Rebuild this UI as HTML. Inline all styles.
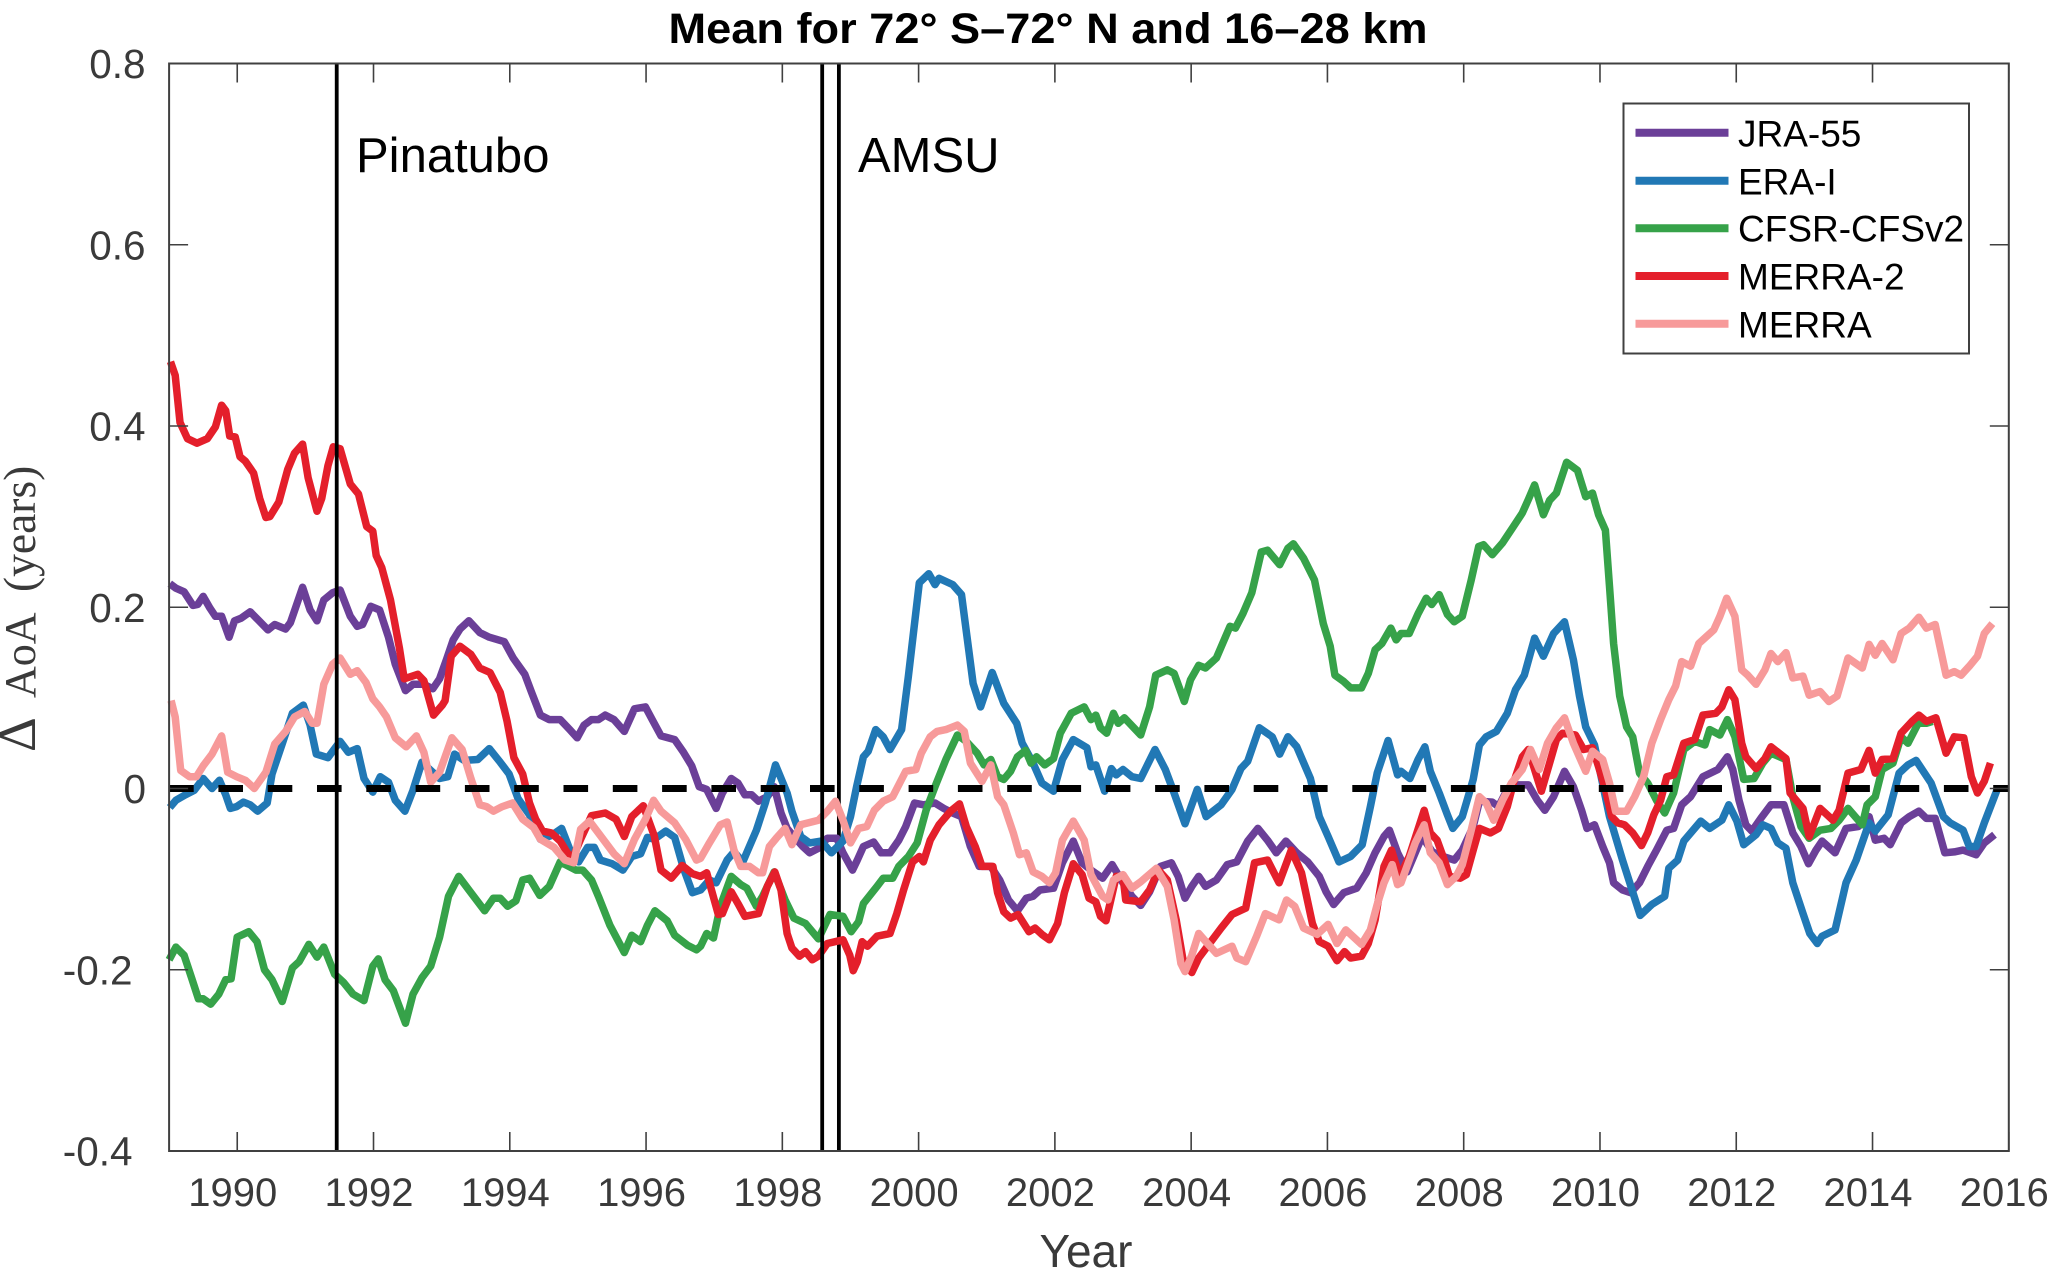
<!DOCTYPE html>
<html lang="en">
<head>
<meta charset="utf-8">
<title>Mean for 72° S–72° N and 16–28 km</title>
<style>
html,body{margin:0;padding:0;background:#fff;}
svg{display:block;}
text{font-family:"Liberation Sans",Arial,sans-serif;}
</style>
</head>
<body>
<svg id="chart" xmlns="http://www.w3.org/2000/svg" width="2067" height="1279" viewBox="0 0 2067 1279">
  <rect x="0" y="0" width="2067" height="1279" fill="#ffffff"/>
  <g id="series-layer-under"></g>
  <g id="series-layer"></g>
  <g id="overlay-layer"></g>
  <g id="axes-layer"></g>
  <text x="1048" y="43" font-size="42.5" font-weight="bold" fill="#000" text-anchor="middle" textLength="759" lengthAdjust="spacingAndGlyphs">Mean for 72° S–72° N and 16–28 km</text>
  <text x="1086" y="1267" font-size="46" fill="#3a3a3a" text-anchor="middle">Year</text>
  <text transform="translate(35,752) rotate(-90)" fill="#3a3a3a" style="font-family:'Liberation Serif',serif"><tspan x="0" font-size="54">Δ </tspan><tspan x="54" font-size="44">AoA </tspan><tspan x="160" font-size="45.5">(years)</tspan></text>
  <text x="356" y="172" font-size="49" fill="#000">Pinatubo</text>
  <text x="858" y="172" font-size="49" fill="#000">AMSU</text>
  <g>
    <rect x="1623.5" y="103.5" width="345.5" height="250" fill="#ffffff" stroke="#404040" stroke-width="2"/>
    <line x1="1635.5" x2="1728.5" y1="132.7" y2="132.7" stroke="#6b3f98" stroke-width="8"/>
    <text x="1738" y="146.7" font-size="37" fill="#000">JRA-55</text>
    <line x1="1635.5" x2="1728.5" y1="180.7" y2="180.7" stroke="#2178b5" stroke-width="8"/>
    <text x="1738" y="194.3" font-size="37" fill="#000">ERA-I</text>
    <line x1="1635.5" x2="1728.5" y1="228.3" y2="228.3" stroke="#36a249" stroke-width="8"/>
    <text x="1738" y="241.5" font-size="37" fill="#000">CFSR-CFSv2</text>
    <line x1="1635.5" x2="1728.5" y1="276" y2="276" stroke="#e41f2b" stroke-width="8"/>
    <text x="1738" y="289.3" font-size="37" fill="#000">MERRA-2</text>
    <line x1="1635.5" x2="1728.5" y1="323.7" y2="323.7" stroke="#f79a9a" stroke-width="8"/>
    <text x="1738" y="337.3" font-size="37" fill="#000">MERRA</text>
  </g>
</svg>
<script>
const xTickYears = [1990,1992,1994,1996,1998,2000,2002,2004,2006,2008,2010,2012,2014,2016];
const yTickValues = [0.8,0.6,0.4,0.2,0,-0.2,-0.4];
const yTickLabels = ["0.8","0.6","0.4","0.2","0","-0.2","-0.4"];
const eventYears = [1991.46,1998.585,1998.83];

const jraYears = [
1989.01,1989.10,1989.22,1989.35,1989.42,1989.50,1989.60,1989.68,1989.77,1989.88,
1989.96,1990.06,1990.19,1990.32,1990.45,1990.55,1990.71,1990.78,1990.96,1991.07,
1991.17,1991.27,1991.40,1991.51,1991.66,1991.76,1991.84,1991.96,1992.09,1992.22,
1992.32,1992.47,1992.58,1992.74,1992.87,1992.97,1993.07,1993.17,1993.27,1993.40,
1993.56,1993.70,1993.92,1994.05,1994.22,1994.32,1994.45,1994.58,1994.74,1994.88,
1994.99,1995.09,1995.20,1995.30,1995.40,1995.53,1995.68,1995.83,1995.99,1996.09,
1996.22,1996.42,1996.55,1996.67,1996.78,1996.89,1997.03,1997.12,1997.25,1997.35,
1997.45,1997.55,1997.65,1997.78,1997.88,1997.98,1998.07,1998.17,1998.30,1998.40,
1998.53,1998.66,1998.80,1998.89,1999.03,1999.10,1999.19,1999.34,1999.45,1999.58,
1999.71,1999.81,1999.94,2000.07,2000.24,2000.37,2000.50,2000.63,2000.76,2000.89,
2001.06,2001.19,2001.32,2001.45,2001.58,2001.68,2001.78,2001.98,2002.11,2002.27,
2002.40,2002.53,2002.70,2002.84,2003.00,2003.13,2003.26,2003.39,2003.55,2003.71,
2003.81,2003.91,2004.01,2004.11,2004.21,2004.37,2004.53,2004.67,2004.83,2004.98,
2005.12,2005.25,2005.39,2005.55,2005.71,2005.88,2005.98,2006.09,2006.24,2006.43,
2006.57,2006.70,2006.83,2006.91,2007.03,2007.17,2007.39,2007.54,2007.70,2007.86,
2007.98,2008.14,2008.23,2008.42,2008.51,2008.64,2008.79,2008.95,2009.08,2009.19,
2009.32,2009.48,2009.61,2009.73,2009.81,2009.92,2010.04,2010.14,2010.20,2010.33,
2010.45,2010.58,2010.70,2010.83,2010.98,2011.08,2011.20,2011.33,2011.51,2011.73,
2011.87,2011.95,2012.04,2012.14,2012.23,2012.36,2012.51,2012.70,2012.83,2012.95,
2013.06,2013.17,2013.26,2013.45,2013.61,2013.79,2013.95,2014.04,2014.17,2014.26,
2014.42,2014.54,2014.68,2014.79,2014.92,2015.06,2015.20,2015.33,2015.52,2015.64,
2015.79];
const jraValues = [
0.226,0.221,0.217,0.202,0.203,0.212,0.199,0.190,0.190,0.167,
0.185,0.188,0.195,0.185,0.175,0.181,0.176,0.183,0.222,0.197,
0.185,0.208,0.216,0.219,0.190,0.179,0.181,0.201,0.197,0.167,
0.137,0.108,0.115,0.115,0.110,0.121,0.142,0.164,0.176,0.185,
0.172,0.167,0.162,0.144,0.126,0.106,0.081,0.076,0.076,0.065,
0.056,0.070,0.076,0.076,0.081,0.076,0.063,0.088,0.090,0.076,
0.058,0.054,0.040,0.025,0.002,-0.001,-0.022,-0.005,0.011,0.006,
-0.007,-0.007,-0.014,-0.009,0.002,-0.027,-0.044,-0.053,-0.064,-0.071,
-0.066,-0.055,-0.055,-0.071,-0.090,-0.079,-0.064,-0.059,-0.071,-0.071,
-0.057,-0.042,-0.016,-0.018,-0.016,-0.022,-0.027,-0.031,-0.064,-0.086,
-0.086,-0.101,-0.123,-0.135,-0.121,-0.119,-0.112,-0.110,-0.082,-0.058,
-0.082,-0.090,-0.099,-0.084,-0.104,-0.119,-0.129,-0.114,-0.086,-0.082,
-0.097,-0.121,-0.108,-0.097,-0.108,-0.101,-0.084,-0.081,-0.058,-0.044,
-0.057,-0.071,-0.058,-0.071,-0.081,-0.097,-0.114,-0.128,-0.115,-0.110,
-0.093,-0.071,-0.053,-0.046,-0.071,-0.092,-0.053,-0.070,-0.075,-0.079,
-0.068,-0.042,-0.014,-0.015,-0.020,-0.001,0.004,0.004,-0.013,-0.024,
-0.009,0.019,0.002,-0.024,-0.044,-0.040,-0.064,-0.082,-0.104,-0.112,
-0.115,-0.104,-0.086,-0.068,-0.046,-0.044,-0.018,-0.009,0.013,0.021,
0.035,0.021,-0.013,-0.040,-0.047,-0.033,-0.018,-0.018,-0.049,-0.064,
-0.083,-0.068,-0.058,-0.071,-0.044,-0.042,-0.031,-0.057,-0.055,-0.062,
-0.038,-0.031,-0.025,-0.033,-0.033,-0.071,-0.070,-0.068,-0.073,-0.060,
-0.051];

const eraYears = [
1989.01,1989.10,1989.24,1989.37,1989.50,1989.63,1989.74,1989.83,1989.90,1989.99,
1990.09,1990.19,1990.30,1990.44,1990.51,1990.65,1990.81,1990.97,1991.07,1991.16,
1991.33,1991.42,1991.51,1991.63,1991.76,1991.86,1991.99,1992.10,1992.22,1992.32,
1992.46,1992.58,1992.71,1992.84,1992.97,1993.09,1993.19,1993.33,1993.53,1993.70,
1993.86,1993.99,1994.12,1994.29,1994.45,1994.61,1994.76,1994.88,1995.01,1995.14,
1995.24,1995.33,1995.50,1995.66,1995.79,1995.92,1996.02,1996.12,1996.29,1996.42,
1996.55,1996.68,1996.80,1996.93,1997.03,1997.19,1997.29,1997.42,1997.62,1997.75,
1997.90,1998.07,1998.14,1998.27,1998.40,1998.57,1998.72,1998.89,1999.00,1999.09,
1999.19,1999.26,1999.37,1999.48,1999.58,1999.75,1999.85,2000.01,2000.15,2000.24,
2000.30,2000.50,2000.63,2000.80,2000.91,2001.08,2001.25,2001.44,2001.52,2001.68,
2001.81,2001.98,2002.11,2002.27,2002.47,2002.53,2002.60,2002.73,2002.83,2002.90,
2003.00,2003.13,2003.26,2003.47,2003.62,2003.75,2003.91,2004.09,2004.22,2004.44,
2004.60,2004.73,2004.83,2005.00,2005.19,2005.30,2005.42,2005.55,2005.75,2005.88,
2006.01,2006.17,2006.34,2006.51,2006.63,2006.73,2006.89,2007.03,2007.08,2007.21,
2007.33,2007.43,2007.51,2007.64,2007.76,2007.84,2007.98,2008.14,2008.23,2008.33,
2008.48,2008.64,2008.76,2008.89,2009.04,2009.17,2009.32,2009.48,2009.61,2009.70,
2009.79,2009.92,2010.14,2010.33,2010.59,2010.76,2010.95,2011.01,2011.14,2011.23,
2011.48,2011.61,2011.79,2011.89,2012.01,2012.11,2012.29,2012.39,2012.51,2012.61,
2012.73,2012.83,2012.98,2013.08,2013.19,2013.26,2013.45,2013.61,2013.76,2013.95,
2014.04,2014.23,2014.39,2014.52,2014.64,2014.86,2015.04,2015.14,2015.33,2015.42,
2015.52,2015.64,2015.83];
const eraValues = [
-0.021,-0.013,-0.007,-0.002,0.011,0.000,0.009,-0.007,-0.022,-0.020,
-0.015,-0.018,-0.025,-0.016,0.016,0.047,0.083,0.092,0.070,0.038,
0.034,0.043,0.052,0.040,0.044,0.011,-0.004,0.013,0.007,-0.013,
-0.025,-0.002,0.029,0.020,0.011,0.013,0.038,0.031,0.032,0.044,
0.029,0.016,-0.011,-0.029,-0.056,-0.052,-0.044,-0.067,-0.081,-0.065,
-0.065,-0.079,-0.083,-0.090,-0.075,-0.072,-0.054,-0.056,-0.047,-0.054,
-0.088,-0.115,-0.112,-0.101,-0.104,-0.079,-0.070,-0.081,-0.046,-0.016,
0.026,-0.005,-0.025,-0.053,-0.060,-0.058,-0.071,-0.058,-0.031,0.002,
0.035,0.041,0.065,0.057,0.043,0.065,0.124,0.227,0.237,0.225,
0.232,0.225,0.214,0.116,0.090,0.128,0.094,0.072,0.050,0.028,
0.006,-0.003,0.032,0.054,0.045,0.024,0.026,-0.003,0.022,0.015,
0.021,0.013,0.011,0.043,0.021,-0.005,-0.039,-0.001,-0.031,-0.018,
-0.001,0.022,0.030,0.067,0.057,0.038,0.057,0.046,0.011,-0.031,
-0.053,-0.081,-0.075,-0.062,-0.020,0.017,0.053,0.015,0.019,0.011,
0.032,0.046,0.019,-0.005,-0.029,-0.044,-0.031,0.010,0.048,0.057,
0.063,0.083,0.109,0.125,0.166,0.146,0.171,0.184,0.142,0.102,
0.068,0.048,-0.031,-0.079,-0.140,-0.128,-0.119,-0.088,-0.079,-0.058,
-0.036,-0.044,-0.035,-0.018,-0.036,-0.062,-0.051,-0.040,-0.044,-0.060,
-0.066,-0.104,-0.138,-0.160,-0.171,-0.163,-0.156,-0.104,-0.079,-0.038,
-0.047,-0.029,0.017,0.026,0.031,0.006,-0.031,-0.038,-0.046,-0.064,
-0.064,-0.038,-0.001];

const cfsrYears = [
1989.00,1989.10,1989.22,1989.33,1989.43,1989.50,1989.61,1989.73,1989.83,1989.91,
1990.00,1990.17,1990.29,1990.40,1990.51,1990.66,1990.81,1990.91,1991.05,1991.17,
1991.27,1991.43,1991.56,1991.70,1991.86,1991.99,1992.07,1992.17,1992.29,1992.47,
1992.58,1992.71,1992.84,1992.97,1993.10,1993.25,1993.40,1993.63,1993.76,1993.86,
1993.97,1994.09,1994.19,1994.29,1994.44,1994.58,1994.74,1994.97,1995.07,1995.20,
1995.30,1995.47,1995.68,1995.79,1995.92,1996.02,1996.13,1996.31,1996.42,1996.61,
1996.74,1996.80,1996.89,1996.99,1997.09,1997.25,1997.39,1997.48,1997.62,1997.71,
1997.88,1998.04,1998.17,1998.34,1998.53,1998.70,1998.89,1999.01,1999.12,1999.19,
1999.39,1999.48,1999.62,1999.71,1999.85,1999.98,2000.11,2000.24,2000.40,2000.57,
2000.70,2000.86,2000.96,2001.06,2001.16,2001.25,2001.35,2001.45,2001.57,2001.65,
2001.73,2001.85,2001.98,2002.08,2002.24,2002.43,2002.53,2002.60,2002.67,2002.76,
2002.86,2002.93,2003.02,2003.26,2003.39,2003.48,2003.65,2003.75,2003.90,2003.99,
2004.11,2004.21,2004.37,2004.57,2004.65,2004.76,2004.89,2005.03,2005.12,2005.30,
2005.42,2005.50,2005.65,2005.81,2005.94,2006.04,2006.11,2006.24,2006.34,2006.50,
2006.60,2006.70,2006.80,2006.93,2007.01,2007.08,2007.20,2007.33,2007.45,2007.53,
2007.64,2007.76,2007.86,2007.98,2008.11,2008.22,2008.29,2008.42,2008.57,2008.73,
2008.86,2008.95,2009.04,2009.17,2009.26,2009.36,2009.51,2009.67,2009.79,2009.89,
2009.98,2010.08,2010.14,2010.20,2010.29,2010.39,2010.48,2010.58,2010.70,2010.83,
2010.95,2011.08,2011.23,2011.39,2011.54,2011.61,2011.76,2011.87,2011.98,2012.11,
2012.26,2012.39,2012.51,2012.73,2012.83,2012.95,2013.07,2013.23,2013.39,2013.51,
2013.64,2013.85,2013.92,2014.04,2014.14,2014.30,2014.42,2014.52,2014.67,2014.79,
2014.88];
const cfsrValues = [
-0.189,-0.175,-0.184,-0.209,-0.232,-0.232,-0.238,-0.227,-0.211,-0.210,
-0.164,-0.158,-0.169,-0.200,-0.211,-0.235,-0.198,-0.191,-0.172,-0.186,
-0.175,-0.205,-0.214,-0.227,-0.234,-0.196,-0.188,-0.211,-0.223,-0.259,
-0.227,-0.209,-0.196,-0.164,-0.119,-0.097,-0.112,-0.135,-0.121,-0.121,
-0.130,-0.124,-0.101,-0.099,-0.118,-0.108,-0.081,-0.090,-0.090,-0.101,
-0.119,-0.151,-0.181,-0.162,-0.169,-0.151,-0.135,-0.146,-0.162,-0.173,
-0.178,-0.174,-0.160,-0.165,-0.130,-0.097,-0.106,-0.110,-0.130,-0.119,
-0.092,-0.123,-0.143,-0.149,-0.166,-0.139,-0.141,-0.158,-0.147,-0.127,
-0.108,-0.099,-0.099,-0.086,-0.075,-0.060,-0.024,0.002,0.032,0.059,
0.052,0.039,0.026,0.032,0.013,0.010,0.019,0.035,0.042,0.028,
0.035,0.026,0.033,0.061,0.083,0.090,0.076,0.081,0.067,0.061,
0.083,0.072,0.078,0.059,0.090,0.125,0.131,0.127,0.096,0.120,
0.136,0.133,0.144,0.179,0.177,0.193,0.216,0.261,0.263,0.247,
0.265,0.270,0.254,0.230,0.182,0.157,0.125,0.118,0.111,0.111,
0.127,0.153,0.160,0.177,0.164,0.171,0.171,0.193,0.210,0.203,
0.214,0.192,0.184,0.190,0.230,0.267,0.269,0.258,0.271,0.289,
0.304,0.319,0.335,0.302,0.318,0.326,0.360,0.351,0.322,0.326,
0.302,0.285,0.223,0.160,0.102,0.068,0.057,0.017,0.006,-0.013,
-0.027,-0.005,0.043,0.052,0.048,0.065,0.059,0.076,0.057,0.010,
0.011,0.028,0.039,0.032,-0.009,-0.042,-0.055,-0.046,-0.044,-0.035,
-0.022,-0.040,-0.018,-0.009,0.021,0.028,0.057,0.050,0.072,0.072,
0.074];

const merra2Years = [
1989.02,1989.09,1989.16,1989.27,1989.41,1989.56,1989.68,1989.77,1989.83,1989.89,
1989.97,1990.04,1990.12,1990.24,1990.33,1990.42,1990.48,1990.61,1990.74,1990.84,
1990.96,1991.04,1991.17,1991.24,1991.33,1991.41,1991.51,1991.66,1991.78,1991.90,
1991.99,1992.04,1992.12,1992.25,1992.38,1992.45,1992.65,1992.74,1992.88,1993.01,
1993.05,1993.14,1993.27,1993.43,1993.56,1993.71,1993.86,1993.96,1994.06,1994.19,
1994.29,1994.38,1994.48,1994.61,1994.74,1994.91,1995.04,1995.20,1995.40,1995.56,
1995.68,1995.79,1995.96,1996.12,1996.22,1996.37,1996.53,1996.68,1996.80,1996.89,
1997.06,1997.12,1997.25,1997.35,1997.45,1997.65,1997.78,1997.89,1997.98,1998.07,
1998.14,1998.25,1998.34,1998.44,1998.53,1998.66,1998.89,1998.99,1999.04,1999.10,
1999.17,1999.25,1999.39,1999.58,1999.68,1999.78,1999.91,2000.01,2000.07,2000.17,
2000.30,2000.47,2000.60,2000.70,2000.83,2000.93,2001.09,2001.16,2001.25,2001.35,
2001.46,2001.62,2001.71,2001.81,2001.92,2002.04,2002.14,2002.27,2002.40,2002.50,
2002.60,2002.67,2002.75,2002.82,2002.90,2003.00,2003.04,2003.26,2003.39,2003.52,
2003.65,2003.78,2003.88,2004.01,2004.11,2004.24,2004.44,2004.60,2004.80,2004.93,
2005.12,2005.29,2005.47,2005.62,2005.78,2005.88,2006.01,2006.14,2006.25,2006.34,
2006.50,2006.60,2006.70,2006.83,2006.94,2007.06,2007.20,2007.42,2007.51,2007.61,
2007.73,2007.79,2007.95,2008.04,2008.14,2008.23,2008.39,2008.51,2008.64,2008.73,
2008.86,2008.95,2009.04,2009.14,2009.26,2009.36,2009.45,2009.64,2009.76,2009.89,
2009.98,2010.08,2010.17,2010.26,2010.36,2010.48,2010.61,2010.70,2010.79,2010.89,
2010.98,2011.08,2011.23,2011.39,2011.51,2011.70,2011.79,2011.89,2011.98,2012.08,
2012.14,2012.29,2012.42,2012.51,2012.73,2012.79,2012.98,2013.07,2013.23,2013.42,
2013.51,2013.64,2013.83,2013.95,2014.04,2014.14,2014.30,2014.42,2014.58,2014.68,
2014.79,2014.93,2015.08,2015.20,2015.34,2015.45,2015.54,2015.64,2015.73];
const merra2Values = [
0.471,0.456,0.404,0.386,0.381,0.386,0.399,0.423,0.417,0.389,
0.388,0.366,0.361,0.348,0.320,0.299,0.300,0.316,0.352,0.370,
0.380,0.343,0.306,0.320,0.356,0.377,0.375,0.336,0.325,0.289,
0.284,0.257,0.244,0.208,0.155,0.121,0.126,0.119,0.081,0.092,
0.097,0.146,0.157,0.148,0.133,0.128,0.106,0.074,0.034,0.016,
-0.016,-0.034,-0.047,-0.049,-0.058,-0.079,-0.056,-0.030,-0.027,-0.034,
-0.053,-0.031,-0.019,-0.052,-0.090,-0.099,-0.085,-0.094,-0.097,-0.093,
-0.139,-0.138,-0.114,-0.127,-0.141,-0.138,-0.108,-0.092,-0.112,-0.160,
-0.176,-0.185,-0.180,-0.189,-0.185,-0.171,-0.167,-0.184,-0.201,-0.191,
-0.169,-0.174,-0.163,-0.160,-0.138,-0.112,-0.081,-0.075,-0.081,-0.057,
-0.040,-0.025,-0.017,-0.042,-0.064,-0.086,-0.086,-0.115,-0.136,-0.143,
-0.139,-0.158,-0.154,-0.161,-0.167,-0.149,-0.115,-0.083,-0.095,-0.121,
-0.125,-0.141,-0.146,-0.123,-0.097,-0.097,-0.123,-0.125,-0.112,-0.090,
-0.101,-0.145,-0.189,-0.203,-0.187,-0.174,-0.154,-0.139,-0.132,-0.082,
-0.079,-0.104,-0.068,-0.093,-0.149,-0.169,-0.174,-0.190,-0.180,-0.187,
-0.185,-0.171,-0.145,-0.086,-0.068,-0.097,-0.075,-0.024,-0.049,-0.057,
-0.082,-0.097,-0.099,-0.095,-0.068,-0.044,-0.049,-0.044,-0.020,0.006,
0.035,0.043,0.021,-0.003,0.028,0.054,0.061,0.059,0.043,0.045,
0.024,-0.001,-0.031,-0.038,-0.040,-0.049,-0.063,-0.049,-0.029,-0.013,
0.013,0.015,0.050,0.054,0.081,0.083,0.090,0.109,0.098,0.050,
0.035,0.022,0.033,0.046,0.033,-0.005,-0.022,-0.053,-0.022,-0.035,
-0.024,0.017,0.021,0.042,0.017,0.032,0.033,0.061,0.074,0.081,
0.074,0.078,0.039,0.057,0.056,0.013,-0.005,0.008,0.028];

const merraYears = [
1989.03,1989.09,1989.17,1989.30,1989.40,1989.50,1989.63,1989.77,1989.86,1989.99,
1990.12,1990.25,1990.42,1990.55,1990.71,1990.84,1990.99,1991.10,1991.17,1991.27,
1991.40,1991.51,1991.66,1991.76,1991.89,1991.99,1992.09,1992.19,1992.32,1992.48,
1992.63,1992.74,1992.84,1992.97,1993.15,1993.30,1993.43,1993.56,1993.66,1993.76,
1993.89,1994.04,1994.19,1994.35,1994.45,1994.65,1994.81,1994.94,1995.04,1995.17,
1995.33,1995.53,1995.68,1995.83,1995.99,1996.11,1996.22,1996.42,1996.58,1996.74,
1996.80,1996.93,1997.09,1997.19,1997.29,1997.39,1997.52,1997.65,1997.71,1997.81,
1997.91,1998.04,1998.14,1998.27,1998.53,1998.66,1998.78,1998.89,1999.00,1999.12,
1999.24,1999.35,1999.48,1999.62,1999.81,1999.96,2000.04,2000.17,2000.27,2000.40,
2000.57,2000.67,2000.76,2000.93,2001.06,2001.16,2001.25,2001.39,2001.48,2001.58,
2001.68,2001.81,2001.92,2002.01,2002.11,2002.27,2002.43,2002.53,2002.70,2002.78,
2002.86,2003.00,2003.13,2003.26,2003.49,2003.65,2003.75,2003.85,2003.91,2004.01,
2004.11,2004.24,2004.37,2004.60,2004.67,2004.80,2004.96,2005.09,2005.29,2005.40,
2005.52,2005.65,2005.85,2006.01,2006.14,2006.27,2006.50,2006.63,2006.73,2006.83,
2006.95,2007.03,2007.08,2007.20,2007.29,2007.42,2007.51,2007.64,2007.76,2007.89,
2007.98,2008.11,2008.23,2008.33,2008.44,2008.57,2008.70,2008.86,2008.98,2009.11,
2009.23,2009.36,2009.48,2009.61,2009.79,2009.89,2010.04,2010.14,2010.23,2010.39,
2010.51,2010.64,2010.76,2010.89,2011.01,2011.11,2011.20,2011.33,2011.45,2011.67,
2011.76,2011.86,2011.98,2012.08,2012.17,2012.29,2012.42,2012.51,2012.61,2012.73,
2012.83,2012.98,2013.07,2013.23,2013.36,2013.48,2013.64,2013.85,2013.95,2014.04,
2014.14,2014.30,2014.42,2014.54,2014.68,2014.79,2014.92,2015.08,2015.20,2015.30,
2015.42,2015.54,2015.64,2015.76];
const merraValues = [
0.097,0.079,0.020,0.013,0.013,0.025,0.038,0.058,0.018,0.013,
0.009,0.000,0.018,0.049,0.063,0.079,0.085,0.072,0.072,0.115,
0.137,0.144,0.126,0.130,0.117,0.099,0.090,0.079,0.056,0.046,
0.058,0.040,0.007,0.018,0.056,0.043,0.011,-0.018,-0.020,-0.025,
-0.020,-0.016,-0.034,-0.043,-0.056,-0.065,-0.079,-0.082,-0.045,-0.036,
-0.052,-0.072,-0.083,-0.056,-0.034,-0.013,-0.025,-0.038,-0.056,-0.079,
-0.077,-0.060,-0.040,-0.037,-0.068,-0.086,-0.086,-0.093,-0.093,-0.064,
-0.055,-0.044,-0.062,-0.040,-0.035,-0.025,-0.014,-0.035,-0.060,-0.044,
-0.042,-0.024,-0.014,-0.009,0.019,0.021,0.039,0.057,0.063,0.065,
0.070,0.063,0.028,0.008,0.026,-0.009,-0.018,-0.049,-0.073,-0.071,
-0.092,-0.097,-0.104,-0.093,-0.057,-0.036,-0.057,-0.095,-0.119,-0.123,
-0.101,-0.095,-0.110,-0.103,-0.088,-0.108,-0.145,-0.193,-0.202,-0.184,
-0.160,-0.171,-0.182,-0.174,-0.187,-0.191,-0.163,-0.138,-0.145,-0.123,
-0.130,-0.154,-0.161,-0.150,-0.171,-0.156,-0.172,-0.156,-0.128,-0.104,
-0.084,-0.106,-0.104,-0.079,-0.060,-0.040,-0.071,-0.082,-0.106,-0.097,
-0.084,-0.046,-0.009,-0.016,-0.035,-0.013,0.006,0.021,0.043,0.021,
0.050,0.067,0.078,0.050,0.019,0.041,0.032,0.006,-0.025,-0.025,
-0.009,0.013,0.050,0.076,0.098,0.113,0.140,0.135,0.160,0.175,
0.190,0.210,0.190,0.131,0.125,0.115,0.131,0.149,0.140,0.150,
0.122,0.124,0.103,0.107,0.096,0.102,0.144,0.133,0.159,0.147,
0.160,0.142,0.171,0.177,0.189,0.177,0.181,0.125,0.129,0.125,
0.135,0.146,0.171,0.182];

const NS = 'http://www.w3.org/2000/svg';
const plotLeft = 169.1, plotRight = 2008.8, plotTop = 63.5, plotBottom = 1151;
const xMin = 1989, xMax = 2016, yMin = -0.4, yMax = 0.8;

function xScale(year) { return plotLeft + (year - xMin) / (xMax - xMin) * (plotRight - plotLeft); }
function yScale(value) { return plotBottom - (value - yMin) / (yMax - yMin) * (plotBottom - plotTop); }

function makeLine(x1, y1, x2, y2, color, width) {
  const el = document.createElementNS(NS, 'line');
  el.setAttribute('x1', x1);
  el.setAttribute('y1', y1);
  el.setAttribute('x2', x2);
  el.setAttribute('y2', y2);
  el.setAttribute('stroke', color);
  el.setAttribute('stroke-width', width);
  return el;
}

function linePath(years, values) {
  const n = Math.min(years.length, values.length);
  let d = '';
  for (let i = 0; i < n; i++) {
    d += (i ? 'L' : 'M') + xScale(years[i]).toFixed(1) + ' ' + yScale(values[i]).toFixed(1);
  }
  return d;
}

function drawSeries(name, years, values, color) {
  const el = document.createElementNS(NS, 'path');
  el.setAttribute('d', linePath(years, values));
  el.setAttribute('fill', 'none');
  el.setAttribute('stroke', color);
  el.setAttribute('stroke-width', '7.5');
  el.setAttribute('stroke-linejoin', 'round');
  el.setAttribute('stroke-linecap', 'butt');
  
  
  document.getElementById('series-layer').appendChild(el);
}

drawSeries('series-jra-55', jraYears, jraValues, '#6b3f98');
drawSeries('series-era-i', eraYears, eraValues, '#2178b5');
drawSeries('series-cfsr-cfsv2', cfsrYears, cfsrValues, '#36a249');
drawSeries('series-merra-2', merra2Years, merra2Values, '#e41f2b');
drawSeries('series-merra', merraYears, merraValues, '#f79a9a');

const axes = document.getElementById('axes-layer');
const overlay = document.getElementById('overlay-layer');
const under = document.getElementById('series-layer-under');

eventYears.forEach(function (year, i) {
  const el = makeLine(xScale(year), plotTop, xScale(year), plotBottom, '#000000', 3.8);
  
  
  (i === 2 ? under : overlay).appendChild(el);
});

const zeroLine = makeLine(plotLeft, yScale(0), plotRight, yScale(0), '#000000', 7);
zeroLine.setAttribute('stroke-dasharray', '24.6 24.7');


overlay.appendChild(zeroLine);

const frame = document.createElementNS(NS, 'rect');
frame.setAttribute('x', plotLeft);
frame.setAttribute('y', plotTop);
frame.setAttribute('width', plotRight - plotLeft);
frame.setAttribute('height', plotBottom - plotTop);
frame.setAttribute('fill', 'none');
frame.setAttribute('stroke', '#404040');
frame.setAttribute('stroke-width', '2');


axes.appendChild(frame);

xTickYears.forEach(function (year) {
  const x = xScale(year);
  const bottomTick = makeLine(x, plotBottom, x, plotBottom - 19, '#404040', 1.6);
  
  
  axes.appendChild(bottomTick);
  const topTick = makeLine(x, plotTop, x, plotTop + 19, '#404040', 1.6);
  
  
  axes.appendChild(topTick);
  const label = document.createElementNS(NS, 'text');
  label.setAttribute('x', x - 4.5);
  label.setAttribute('y', 1206);
  label.setAttribute('font-size', '40');
  label.setAttribute('fill', '#3a3a3a');
  label.setAttribute('text-anchor', 'middle');
  
  
  label.textContent = String(year);
  axes.appendChild(label);
});

yTickValues.forEach(function (value, i) {
  const y = yScale(value);
  const leftTick = makeLine(plotLeft, y, plotLeft + 19, y, '#404040', 1.6);
  
  
  axes.appendChild(leftTick);
  const rightTick = makeLine(plotRight, y, plotRight - 19, y, '#404040', 1.6);
  
  
  axes.appendChild(rightTick);
  const label = document.createElementNS(NS, 'text');
  label.setAttribute('x', value < 0 ? 132.6 : (value === 0 ? 146 : 145.5));
  label.setAttribute('y', y + 14.5);
  label.setAttribute('font-size', '40.5');
  label.setAttribute('fill', '#3a3a3a');
  label.setAttribute('text-anchor', 'end');
  
  
  label.textContent = yTickLabels[i];
  axes.appendChild(label);
});
</script>
</body>
</html>
